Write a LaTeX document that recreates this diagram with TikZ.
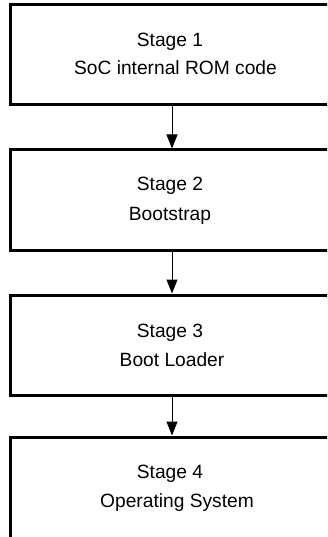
\documentclass[tikz,border=0pt]{standalone}
\usepackage{fontspec}
\setmainfont{Liberation Sans}
\usetikzlibrary{arrows.meta}
\begin{document}
\begin{tikzpicture}[x=1pt,y=-1pt,
  box/.style={draw=black,line width=3pt,minimum width=324pt,inner sep=0pt},
  txt/.style={anchor=base,inner sep=0pt,font=\fontsize{19.2}{23}\selectfont},
  conn/.style={line width=1pt,-{Triangle[length=14pt,width=11pt]}}]
\useasboundingbox (0,0) rectangle (327,537);
\clip (0,0) rectangle (327,537);
\node[box,minimum height=100pt] (b1) at (172,55) {};
\node[box,minimum height=100pt] (b2) at (172,200) {};
\node[box,minimum height=100pt] (b3) at (172,345) {};
\node[box,minimum height=110pt] (b4) at (172,492) {};
\node[txt] (s1) at (170,47) {Stage 1};
\node[txt] (d1) at (175.5,75) {SoC internal ROM code};
\node[txt] (s2) at (170,190) {Stage 2};
\node[txt] (d2) at (170,220) {Bootstrap};
\node[txt] (s3) at (170,337) {Stage 3};
\node[txt] (d3) at (172,366) {Boot Loader};
\node[txt] (s4) at (170,478) {Stage 4};
\node[txt] (d4) at (177,507) {Operating System};
\draw[conn] (b1.south) -- (b2.north);
\draw[conn] (b2.south) -- (b3.north);
\draw[conn] (b3.south) -- (b4.north);
\end{tikzpicture}
\end{document}
